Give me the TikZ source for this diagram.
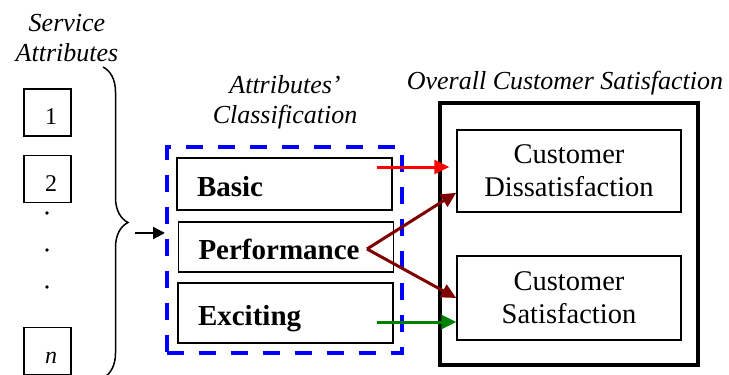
\documentclass[tikz,border=0pt]{standalone}
\usepackage{fontspec}
\setmainfont{Liberation Serif}
\usepackage{tikz}
\usetikzlibrary{arrows.meta,positioning,decorations.pathreplacing}
\usepackage{xcolor}
\definecolor{ksblue}{RGB}{0,0,255}
\definecolor{ksred}{RGB}{255,0,0}
\definecolor{ksmaroon}{RGB}{128,0,0}
\definecolor{ksgreen}{RGB}{0,128,0}
\tikzstyle{arrow} = [line width=3pt,-{Triangle[length=15pt,width=14pt]}]
\tikzstyle{attrbox} = [rectangle, draw, line width=1.5pt, minimum width=47pt, minimum height=47pt, inner sep=0pt, text width=19pt, align=right, text height=24pt, text depth=0pt, font=\fontsize{24}{26}\selectfont]
\tikzstyle{classbox} = [rectangle, draw, line width=1.5pt, inner xsep=20pt, text width=175pt, align=left, text height=25pt, text depth=1pt, font=\bfseries\fontsize{29}{32}\selectfont]
\tikzstyle{outcome} = [rectangle, draw, line width=1.5pt, minimum width=224pt, align=center, execute at begin node={\rule{0pt}{27pt}}, font=\fontsize{28.5}{33}\selectfont]
\tikzstyle{heading} = [align=center, font=\itshape\fontsize{26}{30}\selectfont]

\begin{document}
\begin{tikzpicture}[x=1pt,y=-1pt]
\useasboundingbox (0,0) rectangle (729,375);
% service attributes
\node (sattr) [heading] at (67,38) {Service\\Attributes};
\node (attr1) [attrbox] at (47.5,112.5) {1};
\node (attr2) [attrbox, below=18pt of attr1] {2};
\node (attrn) [attrbox] at (47.5,351) {\textit{n}};
\foreach \y in {213,250,287}
  \fill (47,\y) circle (1.8pt);
\draw[line width=1.5pt, decorate, decoration={brace, amplitude=25pt}] (103,67) -- (103,378);
\coordinate (brout) at (135,233);

% classification
\node (classhead) [heading] at (285,102) {Attributes'\\Classification};
\node (classif) [rectangle, draw=ksblue, line width=4pt, dash pattern=on 17pt off 15pt, minimum width=235pt, minimum height=206pt] at (284.5,250) {};
\node (basic) [classbox, minimum height=52pt] at (284.5,184) {Basic};
\node (perf) [classbox, minimum height=50pt] at (286,247) {Performance};
\node (exc) [classbox, minimum height=60pt] at (285.5,313) {Exciting};
\coordinate (basicout) at (377,167);
\coordinate (perfout) at (367,249);
\coordinate (excout) at (377,322);

% overall satisfaction
\node (overall) [rectangle, draw, line width=4pt, minimum width=258pt, minimum height=262pt] at (569,234) {};
\node (overallhead) [heading, anchor=base] at (565,89) {Overall Customer Satisfaction};
\node (dissat) [outcome, minimum height=82pt] at (569,171) {Customer\\Dissatisfaction};
\node (sat) [outcome, minimum height=84pt] at (569,298) {Customer\\Satisfaction};

\draw[line width=2pt, -{Triangle[length=12pt,width=12pt]}] (brout) -- (brout -| classif.west);
\draw[arrow, color=ksred, shorten >=7pt] (basicout) -- (basicout -| dissat.west);
\draw[arrow, color=ksmaroon] (perfout) -- ([yshift=20pt]dissat.south west);
\draw[arrow, color=ksmaroon] (perfout) -- (sat.west);
\draw[arrow, color=ksgreen] (excout) -- (excout -| sat.west);
\end{tikzpicture}
\end{document}
